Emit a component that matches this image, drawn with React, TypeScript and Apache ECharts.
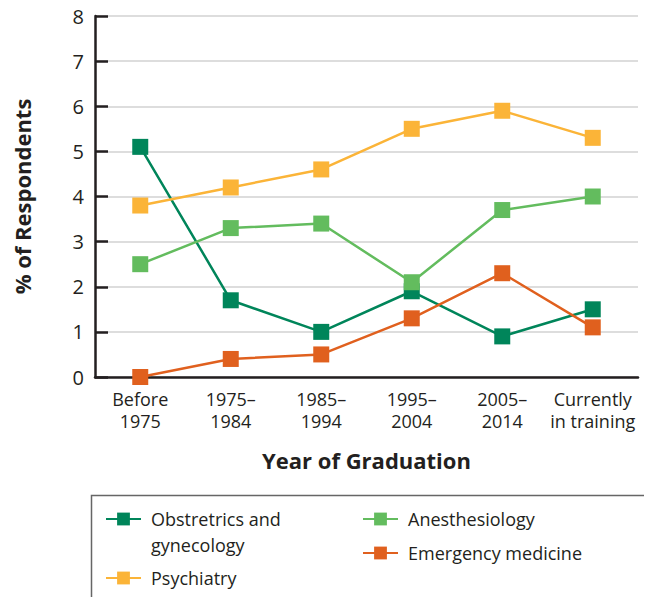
import React, { useEffect, useRef } from "react";
import * as echarts from "echarts";

const categories = ["Before\n1975", "1975–\n1984", "1985–\n1994", "1995–\n2004", "2005–\n2014", "Currently\nin training"];
const obstetrics = [5.1, 1.7, 1.0, 1.9, 0.9, 1.5];
const psychiatry = [3.8, 4.2, 4.6, 5.5, 5.9, 5.3];
const anesthesiology = [2.5, 3.3, 3.4, 2.1, 3.7, 4.0];
const emergency = [0, 0.4, 0.5, 1.3, 2.3, 1.1];
const seriesNames = ["Obstretrics and gynecology", "Psychiatry", "Anesthesiology", "Emergency medicine"];
const colors = ["#00855A", "#FBB438", "#63BC5E", "#E0601E"];

const FONT = "'Open Sans', 'Noto Sans', sans-serif";
const TEXT = "#231F20";

export default function App() {
  const ref = useRef<HTMLDivElement>(null);
  useEffect(() => {
    const chart = echarts.init(ref.current!, null, { renderer: "svg" });
    const values = [obstetrics, psychiatry, anesthesiology, emergency];
    const legendCommon = {
      orient: "vertical",
      padding: 0,
      itemWidth: 35,
      itemHeight: 16,
      textStyle: {
        fontFamily: FONT,
        fontSize: 18,
        color: TEXT,
        lineHeight: 26,
        rich: { t: { fontFamily: FONT, fontSize: 18, color: TEXT, lineHeight: 26, padding: [0, 0, 0, 5] } },
      },
      formatter: (name: string) =>
        name === seriesNames[0] ? " \n{t|Obstretrics and}\n{t|gynecology}" : "{t|" + name + "}",
    };
    chart.setOption({
      animation: false,
      textStyle: { fontFamily: FONT, color: TEXT },
      grid: { left: 95, right: 14, top: 16, bottom: 220, outerBoundsMode: "none", containLabel: false },
      graphic: [
        {
          type: "rect",
          shape: { x: 91.5, y: 495.5, width: 620, height: 200 },
          style: { fill: "none", stroke: "#666", lineWidth: 1.5 },
          z: 0,
        },
      ],
      legend: [
        {
          ...legendCommon,
          data: [seriesNames[0], seriesNames[1]],
          left: 105,
          top: 480,
          itemGap: 7,
        },
        {
          ...legendCommon,
          data: [seriesNames[2], seriesNames[3]],
          left: 362,
          top: 506,
          itemGap: 8,
        },
      ],
      xAxis: {
        type: "category",
        data: categories,
        boundaryGap: true,
        name: "Year of Graduation",
        nameLocation: "middle",
        nameGap: 72,
        nameTextStyle: { fontFamily: FONT, fontSize: 22, fontWeight: "bold", color: TEXT },
        axisLine: { lineStyle: { color: TEXT, width: 2.5 } },
        axisTick: { inside: true, length: 7, lineStyle: { color: TEXT, width: 2 } },
        axisLabel: { fontFamily: FONT, fontSize: 18, color: TEXT, lineHeight: 22, margin: 11, interval: 0 },
      },
      yAxis: {
        type: "value",
        min: 0,
        max: 8,
        interval: 1,
        name: "% of Respondents",
        nameLocation: "middle",
        nameGap: 62,
        nameRotate: 90,
        nameTextStyle: { fontFamily: FONT, fontSize: 22, fontWeight: "bold", color: TEXT },
        axisLine: { show: true, lineStyle: { color: TEXT, width: 2.5 } },
        axisTick: { show: true, inside: true, length: 13, lineStyle: { color: TEXT, width: 2.5 } },
        axisLabel: { fontFamily: FONT, fontSize: 20, color: TEXT, margin: 11 },
        splitLine: { lineStyle: { color: "#DDDDDD", width: 2 } },
      },
      series: seriesNames.map((name, i) => ({
        name,
        type: "line",
        data: values[i],
        symbol: "rect",
        symbolSize: 16,
        color: colors[i],
        lineStyle: { color: colors[i], width: 2.5 },
        itemStyle: { color: colors[i] },
        z: 2 + i,
      })),
    });
    return () => chart.dispose();
  }, []);
  return <div ref={ref} style={{ width: 652, height: 597, marginLeft: -8, marginTop: -8 }} />;
}
